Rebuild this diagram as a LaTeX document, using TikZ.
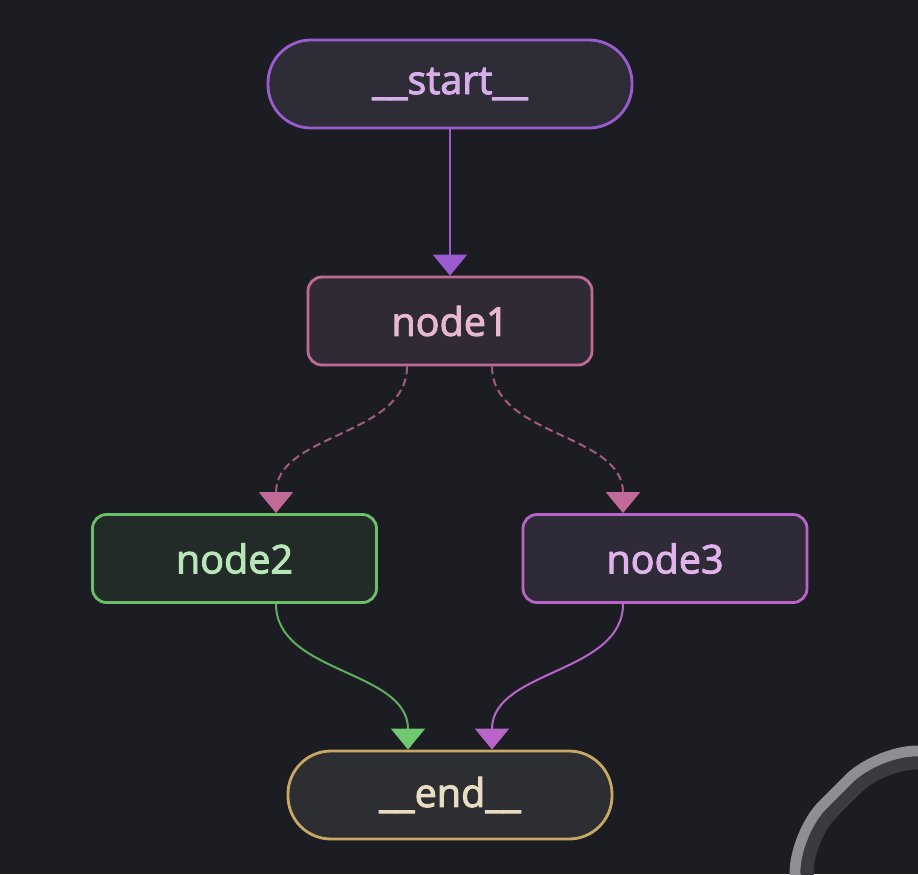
\documentclass[tikz,border=0pt]{standalone}
\usepackage{fontspec}
\setmainfont{Open Sans}[RawFeature={embolden=2.5}]
\usepackage{tikz}
\usetikzlibrary{arrows.meta,shapes,positioning,backgrounds}
\definecolor{fundo}    {RGB}{27, 29, 35}
\definecolor{roxo}     {RGB}{155, 92,210}
\definecolor{rosa}     {RGB}{192,106,152}
\definecolor{verde}    {RGB}{108,190,105}
\definecolor{verdeSeta}{RGB}{112,200,112}
\definecolor{lilas}    {RGB}{185,100,200}
\definecolor{ouro}     {RGB}{200,168,100}
\definecolor{cinzaClaro}{RGB}{142,142,148}
\definecolor{cinzaEscuro}{RGB}{58, 58, 64}

\begin{document}
\begin{tikzpicture}[
          caixa/.style={rectangle,rounded corners=0.28cm,minimum width=5.68cm,
                        minimum height=1.76cm,line width=1.6pt,
                        font=\fontsize{22.5}{27}\selectfont},
          pilula/.style={caixa,rounded corners=0.86cm},
          seta/.style={line width=1.15pt,
                       -{Triangle[length=0.42cm,width=0.68cm,color=#1]}},
          tracejado/.style={seta=#1,dash pattern=on 4.5pt off 2.5pt}]
          \useasboundingbox (0,0) rectangle (18.36,-17.48);
          \clip (0,0) rectangle (18.36,-17.48);
          \fill[fundo] (0,0) rectangle (18.36,-17.48);
          % canto no fundo
          \draw[cinzaClaro,line width=0.22cm,rounded corners=0.8cm]
            (15.9,-18.2) -- (15.9,-16.66) -- (17.54,-15.02) -- (19.2,-15.02);
          \draw[cinzaEscuro,line width=0.26cm,rounded corners=0.7cm]
            (16.14,-18.2) -- (16.14,-16.75) -- (17.63,-15.26) -- (19.2,-15.26);
          \node[pilula,draw=roxo,fill={rgb,255:red,45;green,44;blue,55},
                text={rgb,255:red,214;green,174;blue,232},minimum width=7.28cm]
                (st) at (9.0,-1.68) {\raisebox{-2pt}{\_\_start\_\_}};
          \node[caixa,draw=rosa,fill={rgb,255:red,47;green,42;blue,54},
                text={rgb,255:red,230;green,184;blue,210}]
                (n1) at (9.0,-6.42) {node1};
          \node[caixa,draw=verde,fill={rgb,255:red,35;green,43;blue,40},
                text={rgb,255:red,185;green,230;blue,185}]
                (n2) at (4.69,-11.17) {node2};
          \node[caixa,draw=lilas,fill={rgb,255:red,46;green,42;blue,56},
                text={rgb,255:red,224;green,180;blue,234}]
                (n3) at (13.3,-11.17) {node3};
          \node[pilula,draw=ouro,fill={rgb,255:red,45;green,46;blue,50},
                text={rgb,255:red,232;green,220;blue,195},minimum width=6.48cm]
                (fim) at (9.0,-15.9) {\raisebox{-2pt}{\_\_end\_\_}};
          \draw[seta=roxo,roxo] (st) -- (n1);
          \draw[tracejado=rosa,rosa!85!black]
            ([xshift=-0.86cm]n1.south) .. controls +(0,-1.4) and +(0,1.6) .. ([xshift=0.83cm]n2.north);
          \draw[tracejado=rosa,rosa!85!black]
            ([xshift=0.84cm]n1.south) .. controls +(0,-1.4) and +(0,1.6) .. ([xshift=-0.84cm]n3.north);
          \draw[seta=verdeSeta,verde!90!black]
            ([xshift=0.83cm]n2.south) .. controls +(0,-1.4) and +(0,1.6) .. ([xshift=-0.84cm]fim.north);
          \draw[seta=lilas,lilas]
            ([xshift=-0.84cm]n3.south) .. controls +(0,-1.4) and +(0,1.6) .. ([xshift=0.84cm]fim.north);
        \end{tikzpicture}
\end{document}
